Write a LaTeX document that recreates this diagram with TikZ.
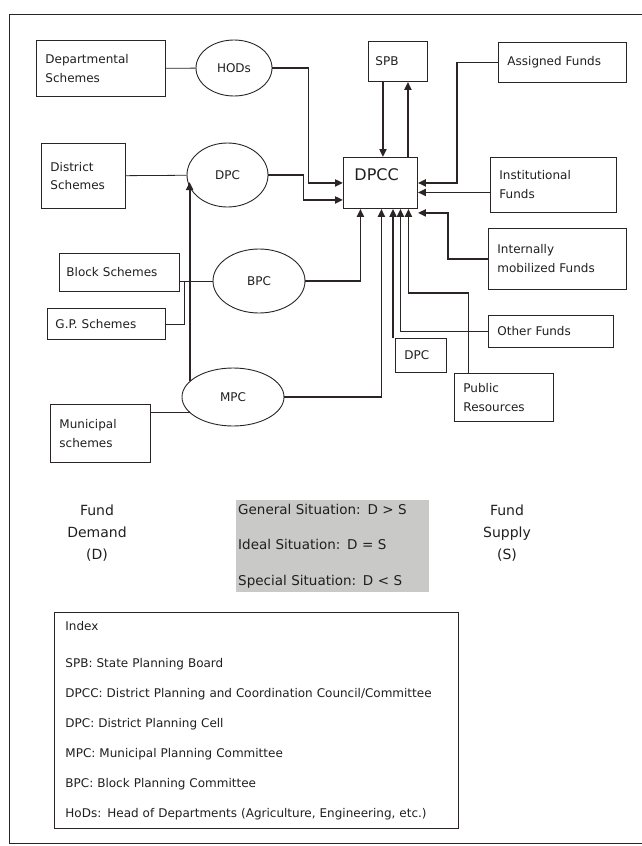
\documentclass[tikz,border=0pt]{standalone}
\usepackage{fontspec}
\setmainfont{DejaVu Sans}
\usepackage{xcolor}
\usepackage{tikz}
\usetikzlibrary{arrows.meta,calc,shapes.geometric}

\definecolor{situgray}{HTML}{C9C9C7}
\definecolor{inkline}{HTML}{2A2424}

\begin{document}
\begin{tikzpicture}[
    x=1pt, y=-1pt,
    every node/.style={text=black!88},
    box/.style={draw=inkline, line width=0.9pt, anchor=north west, align=left, inner xsep=9pt, inner ysep=0pt, font=\fontsize{12}{19}\selectfont},
    oval/.style={draw=inkline, line width=0.9pt, ellipse, inner sep=0pt, font=\fontsize{12}{14}\selectfont},
    link/.style={draw=inkline, line width=0.8pt},
    arr/.style={draw=inkline, line width=1.9pt, -{Triangle[length=8pt,width=7pt]}}
]
\useasboundingbox (0,0) rectangle (641,846);
\draw[inkline, line width=0.9pt] (9,14) rectangle (660,843);

\node[box, text width=111pt, minimum height=56pt] (dept) at (36,40) {Departmental\\Schemes};
\node[box, minimum height=40pt, inner xsep=7pt, text width=45pt] (spb) at (368,41) {SPB};
\node[box, text width=110pt, minimum height=40pt] (assigned) at (498,42) {Assigned Funds};
\node[box, text width=66pt, minimum height=65pt, font=\fontsize{12}{18}\selectfont] (district) at (41,143) {District\\Schemes};
\node[box, text width=52pt, inner xsep=11pt, inner ysep=4pt, text height=19pt, text depth=24pt, font=\fontsize{16}{18}\selectfont] (dpcc) at (343,157) {DPCC};
\node[box, text width=108pt, minimum height=55pt] (inst) at (490,157) {Institutional\\Funds};
\node[box, text width=120pt, minimum height=61pt] (intern) at (488,228) {Internally\\mobilized Funds};
\node[box, text width=106pt, inner xsep=7pt, minimum height=38pt] (block) at (59,253) {Block Schemes};
\node[box, text width=102pt, inner xsep=8pt, minimum height=31pt] (gp) at (47,308) {G.P. Schemes};
\node[box, text width=107pt, minimum height=32pt] (other) at (488,315) {Other Funds};
\node[box, text width=33pt, minimum height=34pt] (dpcbox) at (395,338) {DPC};
\node[box, text width=81pt, minimum height=48pt] (public) at (454,373) {Public\\Resources};
\node[box, text width=82pt, minimum height=58pt] (municipal) at (50,404) {Municipal\\schemes};

\node[oval, minimum width=76pt, minimum height=56pt] (hods) at (234,68) {HODs};
\node[oval, minimum width=81pt, minimum height=64pt] (dpc) at (227.5,175) {DPC};
\node[oval, minimum width=92pt, minimum height=64pt] (bpc) at (259,281) {BPC};
\node[oval, minimum width=102pt, minimum height=58pt] (mpc) at (233,397) {MPC};

\coordinate (spbdown) at ($(spb.south)+(-15,0)$);
\coordinate (spbup) at ($(spb.south)+(10,0)$);
\coordinate (instin) at ($(dpcc.east)+(0,9.5)$);
\coordinate (dpcfoot) at ($(dpcbox.north west)+(-2,0)$);
\coordinate (blockjoin) at ($(block.east |- bpc.west)+(4,0)$);

\draw[link] (dept) -- (hods);
\draw[link] (district) -- (dpc);
\draw[link] (block.east |- bpc.west) -- (bpc.west);
\draw[link] (gp.east) -| (blockjoin);
\draw[link] (municipal.east |- mpc.200) -- (mpc.200);

\draw[arr] (hods.east) -- ++(36,0) |- (dpcc.west);
\draw[arr] (dpc.east) -- ++(35,0) |- ($(dpcc.west)+(0,17)$);
\draw[arr] (spbdown) -- (spbdown |- dpcc.north);
\draw[arr] (spbup |- dpcc.north) -- (spbup);
\draw[arr] (assigned.west) -- ++(-41,0) |- (dpcc.east);
\draw[arr] (inst.west |- instin) -- (instin);
\draw[arr] (intern.west) -- ++(-40,0) |- ($(dpcc.south east)+(0,4)$);
\draw[arr] (public.north) ++(-35.5,0) -- ++(0,-80) -| ($(dpcc.south)+(28,0)$);
\draw[arr] (other.west) -| ($(dpcc.south)+(20,0)$);
\draw[arr] (dpcfoot) -- (dpcfoot |- dpcc.south);
\draw[arr] (mpc.east) -| ($(dpcc.south)+(1,0)$);
\draw[arr] (bpc.east) -| ($(dpcc.south)+(-20,0)$);
\draw[arr] (mpc.160) -- (mpc.160 |- dpc.190);

\node[align=center, font=\fontsize{14}{22}\selectfont] (demand) at (97,533) {Fund\\Demand\\(D)};
\node[align=center, font=\fontsize{14}{22}\selectfont] (supply) at (507,533) {Fund\\Supply\\(S)};
\node[fill=situgray, anchor=north west, minimum height=92pt, text width=189pt, inner xsep=2pt, inner ysep=0pt, align=left, font=\fontsize{13.5}{35.5}\selectfont] (situation) at (236,500) {General Situation: D > S\\Ideal Situation: D = S\\Special Situation: D < S};

\node[draw=inkline, line width=0.9pt, anchor=north west, minimum height=216pt, text width=382pt, inner xsep=11pt, align=left, font=\fontsize{12}{30}\selectfont] (index) at (54,612) {Index\\[7pt]
SPB: State Planning Board\\
DPCC: District Planning and Coordination Council/Committee\\
DPC: District Planning Cell\\
MPC: Municipal Planning Committee\\
BPC: Block Planning Committee\\
HoDs: Head of Departments (Agriculture, Engineering, etc.)};
\end{tikzpicture}
\end{document}
